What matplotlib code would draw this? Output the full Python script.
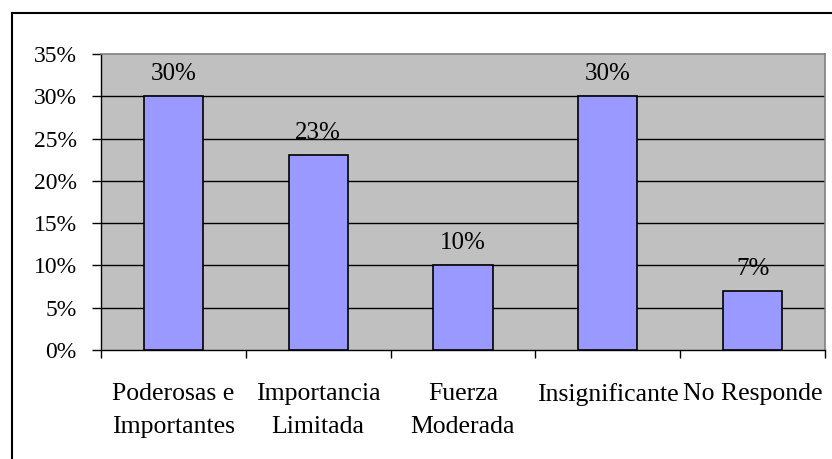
import matplotlib
matplotlib.use("Agg")
import matplotlib.pyplot as plt
from matplotlib.lines import Line2D
import numpy as np

categorias = ["Poderosas e\nImportantes", "Importancia\nLimitada", "Fuerza\nModerada",
              "Insignificante", "No Responde"]
valores = [30, 23, 10, 30, 7]
yticks = [0, 5, 10, 15, 20, 25, 30, 35]

plt.rcParams["font.family"] = ["Liberation Serif", "DejaVu Serif"]

fig = plt.figure(figsize=(8.32, 4.59), dpi=100)
ax = fig.add_axes([101 / 832, 1 - 350 / 459, 724 / 832, 296 / 459])
ax.set_facecolor("#C0C0C0")

x = np.arange(len(valores))
ax.bar(x, valores, width=0.41, color="#9999FF", edgecolor="black", linewidth=1.2, zorder=3)
for xi, v in zip(x, valores):
    ax.text(xi, v + 1.9, f"{v}%", ha="center", va="baseline", fontsize=18, zorder=4)

ax.set_xlim(-0.5, len(valores) - 0.5)
ax.set_ylim(0, 35)
ax.set_yticks(yticks)
ax.set_yticklabels([f"{t}%" for t in yticks], fontsize=17)
for t in yticks[1:-1]:
    ax.axhline(t, color="black", linewidth=1, zorder=1)

# ticks on category boundaries, labels centred under bars
ax.set_xticks(np.arange(len(valores) + 1) - 0.5)
ax.set_xticklabels([])
ax.set_xticks(x, minor=True)
ax.set_xticklabels(categorias, minor=True, fontsize=18.5, linespacing=1.6)
ax.tick_params(axis="x", which="major", length=6, width=1, color="black")
ax.tick_params(axis="x", which="minor", length=0, pad=24)
ax.tick_params(axis="y", length=6.5, width=1, pad=11)

for s in ["top", "right"]:
    ax.spines[s].set_color("#808080")
    ax.spines[s].set_linewidth(1.2)
for s in ["left", "bottom"]:
    ax.spines[s].set_color("black")
    ax.spines[s].set_linewidth(1)

# outer chart frame
fig.add_artist(Line2D([12 / 832, 12 / 832], [0, 1 - 13 / 459], color="black", linewidth=1.5,
                      transform=fig.transFigure))
fig.add_artist(Line2D([12 / 832, 1], [1 - 13 / 459, 1 - 13 / 459], color="black", linewidth=1.5,
                      transform=fig.transFigure))

fig.savefig("out.png", dpi=100)
